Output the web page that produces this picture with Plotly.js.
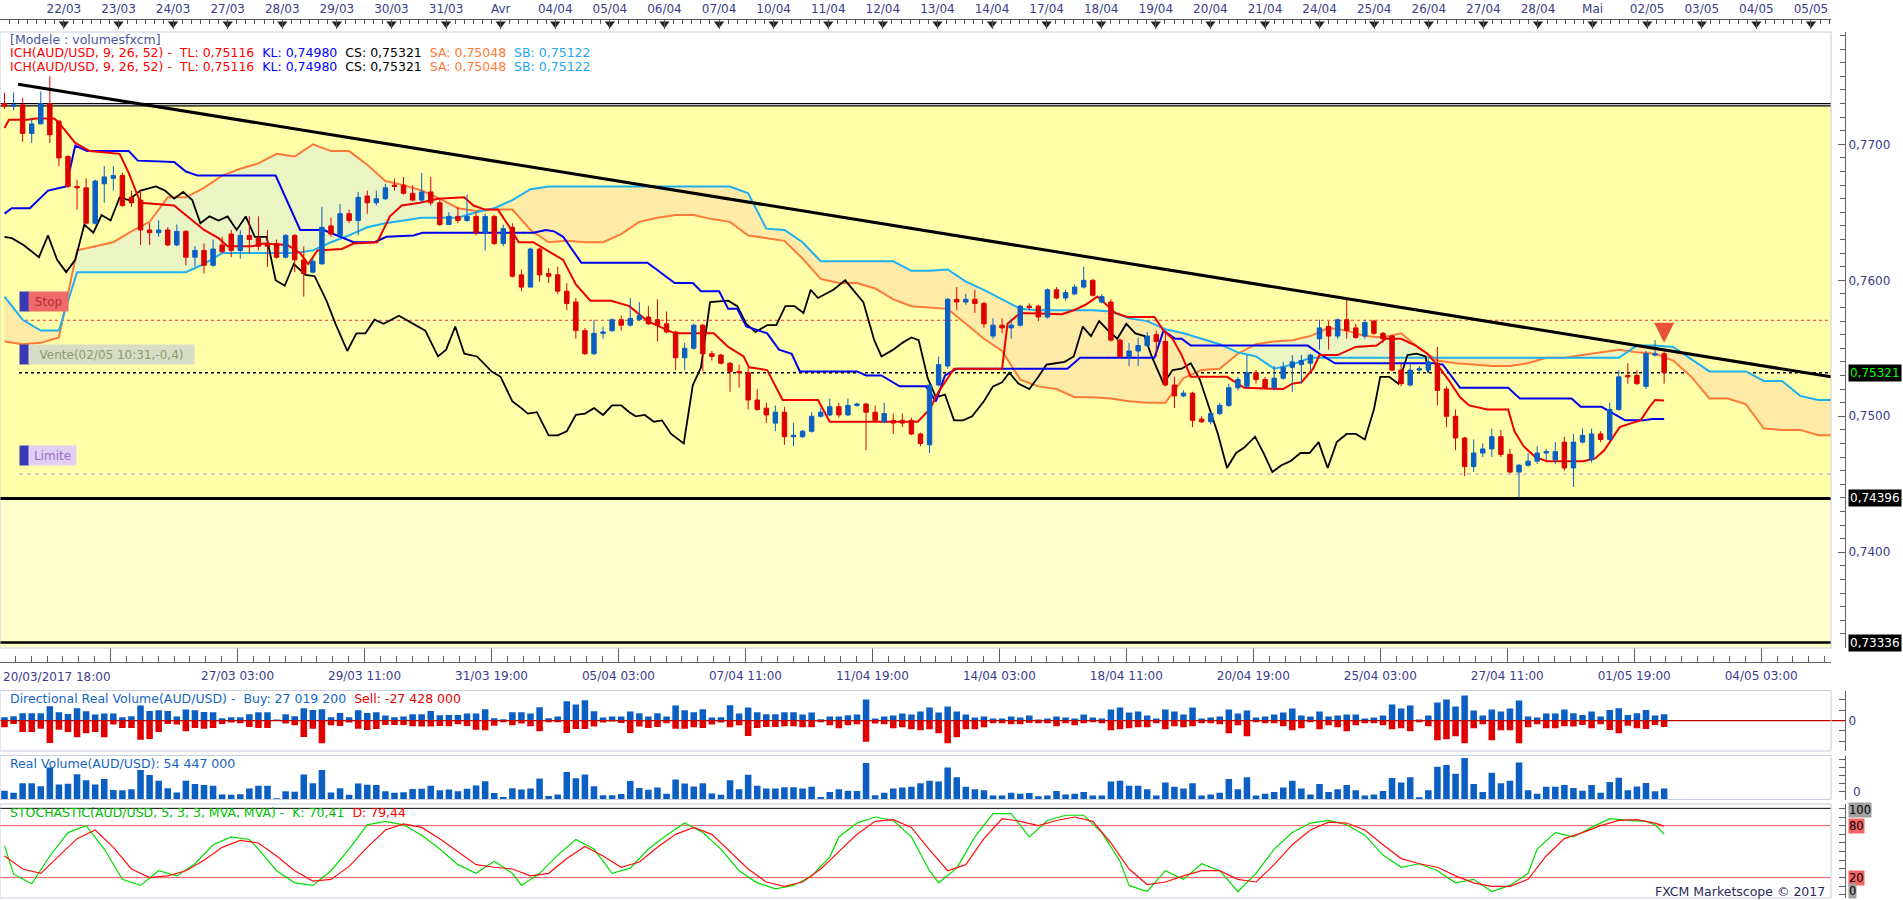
<!DOCTYPE html>
<html><head><meta charset="utf-8">
<script src="https://cdn.plot.ly/plotly-3.0.1.min.js"></script>
<style>html,body{margin:0;padding:0;background:#fff;overflow:hidden}#chart{width:1903px;height:900px}</style>
</head><body><div id="chart"></div>
<script>
// ---------------- DATA (AUD/USD 4H candles, index 0 = 20/03/2017 18:00) ----------------
const open = [
.7730,.7728,.7729,.7708,.7715,.7730,.7717,.7691,.7669,.7668,
.7642,.7671,.7675,.7677,.7661,.7659,.7637,.7635,.7637,.7626,
.7636,.7617,.7622,.7611,.7626,.7634,.7622,.7633,.7631,.7627,
.7627,.7617,.7633,.7615,.7606,.7612,.7640,.7633,.7649,.7644,
.7662,.7657,.7660,.7670,.7670,.7664,.7659,.7665,.7657,.7641,
.7647,.7644,.7647,.7635,.7647,.7627,.7639,.7604,.7595,.7623,
.7605,.7604,.7592,.7584,.7563,.7546,.7561,.7563,.7571,.7567,
.7571,.7573,.7571,.7568,.7562,.7543,.7550,.7567,.7546,.7545,
.7539,.7533,.7532,.7512,.7506,.7495,.7503,.7485,.7485,.7489,
.7500,.7501,.7507,.7501,.7508,.7509,.7503,.7496,.7497,.7497,
.7497,.7487,.7479,.7523,.7537,.7586,.7584,.7586,.7583,.7559,
.7567,.7565,.7567,.7581,.7581,.7573,.7593,.7587,.7590,.7595,
.7600,.7584,.7584,.7556,.7544,.7548,.7552,.7560,.7555,.7523,
.7515,.7517,.7498,.7496,.7502,.7508,.7521,.7522,.7532,.7527,
.7521,.7528,.7536,.7538,.7539,.7557,.7566,.7559,.7571,.7565,
.7559,.7570,.7561,.7559,.7534,.7523,.7534,.7534,.7539,.7520,
.7500,.7484,.7463,.7473,.7476,.7485,.7472,.7459,.7464,.7467,
.7473,.7468,.7481,.7462,.7481,.7468,.7487,.7483,.7505,.7530,
.7530,.7522,.7545,.7546];
const high = [
.7738,.7738,.7734,.7719,.7739,.7750,.7718,.7692,.7674,.7675,
.7674,.7684,.7684,.7679,.7666,.7666,.7642,.7644,.7639,.7641,
.7637,.7625,.7627,.7630,.7632,.7637,.7637,.7647,.7647,.7637,
.7630,.7634,.7634,.7625,.7616,.7654,.7646,.7656,.7652,.7665,
.7666,.7666,.7671,.7675,.7676,.7670,.7679,.7676,.7659,.7650,
.7654,.7663,.7650,.7649,.7648,.7641,.7642,.7608,.7624,.7624,
.7609,.7610,.7598,.7587,.7565,.7571,.7566,.7572,.7574,.7587,
.7584,.7581,.7586,.7577,.7563,.7554,.7568,.7568,.7548,.7546,
.7540,.7538,.7536,.7520,.7510,.7508,.7507,.7495,.7490,.7503,
.7506,.7513,.7510,.7513,.7510,.7510,.7508,.7510,.7502,.7502,
.7499,.7488,.7524,.7544,.7587,.7595,.7590,.7593,.7584,.7572,
.7572,.7572,.7582,.7583,.7582,.7594,.7595,.7593,.7597,.7610,
.7601,.7590,.7586,.7557,.7554,.7558,.7562,.7563,.7563,.7529,
.7519,.7518,.7500,.7503,.7510,.7524,.7529,.7545,.7534,.7529,
.7537,.7540,.7545,.7545,.7546,.7571,.7570,.7572,.7586,.7568,
.7571,.7571,.7562,.7560,.7539,.7539,.7537,.7542,.7551,.7522,
.7505,.7485,.7483,.7480,.7491,.7490,.7476,.7465,.7473,.7478,
.7476,.7481,.7485,.7487,.7491,.7491,.7489,.7510,.7534,.7539,
.7534,.7548,.7556,.7548];
const low = [
.7726,.7725,.7702,.7701,.7715,.7701,.7684,.7668,.7652,.7641,
.7641,.7657,.7666,.7654,.7654,.7626,.7626,.7632,.7625,.7625,
.7611,.7610,.7605,.7610,.7620,.7617,.7616,.7620,.7622,.7610,
.7616,.7616,.7606,.7588,.7605,.7612,.7632,.7632,.7642,.7633,
.7649,.7655,.7659,.7666,.7663,.7658,.7657,.7655,.7640,.7641,
.7642,.7643,.7633,.7622,.7626,.7625,.7602,.7592,.7595,.7599,
.7598,.7590,.7578,.7557,.7545,.7545,.7557,.7562,.7563,.7566,
.7570,.7567,.7555,.7561,.7534,.7534,.7549,.7533,.7541,.7538,
.7518,.7521,.7505,.7504,.7495,.7489,.7479,.7478,.7484,.7488,
.7499,.7500,.7499,.7500,.7507,.7475,.7496,.7495,.7487,.7492,
.7486,.7478,.7473,.7522,.7535,.7578,.7582,.7576,.7565,.7557,
.7561,.7557,.7566,.7578,.7570,.7572,.7586,.7585,.7589,.7594,
.7588,.7583,.7555,.7543,.7537,.7537,.7551,.7544,.7522,.7506,
.7514,.7492,.7495,.7494,.7501,.7507,.7519,.7520,.7524,.7520,
.7519,.7527,.7518,.7524,.7534,.7549,.7549,.7557,.7557,.7557,
.7557,.7560,.7554,.7533,.7522,.7522,.7533,.7533,.7508,.7492,
.7475,.7456,.7459,.7470,.7470,.7470,.7458,.7440,.7463,.7465,
.7468,.7465,.7460,.7448,.7480,.7466,.7481,.7481,.7504,.7524,
.7523,.7520,.7544,.7524];
const close = [
.7728,.7729,.7708,.7715,.7730,.7707,.7690,.7669,.7668,.7642,
.7673,.7676,.7677,.7655,.7657,.7637,.7635,.7637,.7626,.7636,
.7617,.7622,.7611,.7623,.7621,.7622,.7633,.7630,.7625,.7625,
.7617,.7633,.7615,.7605,.7614,.7639,.7634,.7649,.7644,.7661,
.7657,.7660,.7668,.7669,.7664,.7659,.7665,.7657,.7641,.7647,
.7644,.7647,.7635,.7647,.7627,.7638,.7603,.7595,.7623,.7604,
.7603,.7592,.7583,.7563,.7546,.7561,.7562,.7571,.7567,.7572,
.7574,.7568,.7567,.7562,.7543,.7550,.7567,.7546,.7544,.7539,
.7533,.7532,.7512,.7505,.7501,.7503,.7485,.7486,.7489,.7500,
.7503,.7507,.7501,.7508,.7509,.7503,.7497,.7502,.7495,.7495,
.7487,.7480,.7523,.7538,.7586,.7584,.7586,.7583,.7568,.7567,
.7565,.7567,.7581,.7580,.7573,.7593,.7587,.7591,.7595,.7600,
.7589,.7588,.7556,.7544,.7548,.7552,.7559,.7555,.7523,.7515,
.7517,.7497,.7496,.7502,.7508,.7521,.7527,.7532,.7527,.7521,
.7528,.7536,.7540,.7541,.7545,.7565,.7559,.7571,.7563,.7558,
.7569,.7561,.7557,.7534,.7524,.7534,.7535,.7540,.7519,.7500,
.7484,.7463,.7473,.7476,.7485,.7472,.7459,.7464,.7467,.7473,
.7474,.7474,.7462,.7481,.7486,.7487,.7483,.7505,.7529,.7529,
.7524,.7546,.7546,.75321];

// Ichimoku (9, 26, 52) lines
const tenkanX = [0,0.5,2.5,3.5,5.5,6.1,7.8,9.4,12.7,13.7,15,18.7,22,23.6,24.6,27.3,28.6,31.2,32.6,33.5,34.5,37.2,38.5,41.1,42.5,43.8,45.8,47.8,50.7,51.7,53,54.4,55.7,56.7,58.3,60.3,61.6,63,64.6,66.9,68.9,70.9,73.9,78.2,79.8,81.5,82.1,84.1,85.8,89.7,91,100.7,102,103,104.7,110,110.6,112,116.6,117.9,119.2,120.5,121.5,122.5,123.8,126.8,127.8,128.8,129.8,130.8,134.8,135.7,136.7,141,142,143,144.3,145,147,149,151.3,152.3,154,155.6,156.9,158.2,159.2,160.5,161.5,163.5,165.8,166.5,167.5,168.8,170.1,174.1,175.4,176.4,177.4,178.1,179.4,180.4,181.4,182,183];
const tenkanY = [.7712,.7718,.7718,.7719,.7719,.7715,.7701,.7695,.7693,.7679,.7657,.7655,.7637,.7631,.7625,.7625,.7627,.7626,.7620,.7612,.7622,.7623,.7627,.7628,.7647,.7655,.7657,.7660,.7661,.7655,.7652,.7652,.7639,.7628,.7628,.7620,.7615,.7597,.7585,.7585,.7581,.7570,.7561,.7561,.7551,.7544,.7536,.7534,.7512,.7512,.7496,.7496,.7505,.7518,.7535,.7535,.7568,.7576,.7575,.7578,.7582,.7588,.7582,.7576,.7573,.7573,.7563,.7557,.7545,.7529,.7529,.7525,.7521,.7520,.7524,.7525,.7535,.7545,.7545,.7551,.7552,.7557,.7557,.7552,.7546,.7536,.7527,.7514,.7508,.7505,.7505,.7489,.7478,.7470,.7467,.7467,.7469,.7475,.7485,.7492,.7495,.7497,.7507,.7512,.75116];
const kijunX = [0,0.8,2.8,4.8,6.8,7.8,9.1,13.7,14.7,18.7,20,21.3,29.9,32.6,35.2,38.5,40.8,42.1,45.1,46.1,58.3,59.7,60.6,61.6,63.6,70.9,73.9,75.9,76.8,78.8,79.8,80.8,81.8,84.1,85.4,86.8,87.7,94,95,96.7,98.7,101.6,102.7,103.7,105,117.2,118.6,126.8,127.8,129.1,129.8,130.8,143.7,145,146.7,157.6,158.6,160.5,165.8,167.1,172.8,173.8,176.1,177.4,178.7,180.7,181.7,183];
const kijunY = [.7649,.7653,.7653,.7666,.7669,.7699,.7695,.7695,.7688,.7687,.7680,.7677,.7677,.7637,.7637,.7628,.7628,.7632,.7633,.7635,.7635,.7637,.7636,.7632,.7613,.7613,.7598,.7598,.7592,.7592,.7579,.7579,.7566,.7561,.7549,.7546,.7533,.7533,.7530,.7530,.7522,.7522,.7511,.7530,.7535,.7535,.7543,.7543,.7563,.7557,.7557,.7552,.7552,.7546,.7539,.7539,.7538,.7521,.7521,.7513,.7513,.7507,.7507,.7502,.7497,.7497,.7498,.7498];
const chikouX = [0,0.8,2.1,3.8,4.8,5.8,6.8,7.8,8.8,9.8,10.7,11.7,12.7,13.7,15,16.7,17.7,18.7,19.7,20.7,21.6,22.6,23.6,24.6,25.6,26.6,27.6,28.9,29.9,30.9,31.9,33.2,34.2,35.5,36.5,37.8,38.8,39.8,40.8,41.8,43.5,45.1,46.4,47.8,48.7,49.7,50.7,52.1,53.7,54.7,56,57,57.7,58.7,60,61,62,63,64,65,66,67,68,68.9,69.6,70.6,71.6,72.5,73.5,74.9,75.9,76.8,77.8,79.8,80.8,81.8,82.8,84.1,85.1,86.1,87.1,88.1,88.9,89.7,91.4,92.7,93.7,94.7,95.9,96.7,98,99,100,100.8,101.8,102.7,103.7,104.7,105.7,106.7,108,109,110,110.8,111.8,113,114,114.9,115.9,116.9,117.9,118.9,119.8,120.7,121.7,122.7,123.7,124.7,125.7,126.5,127.8,128.8,129.8,130.8,131.8,132.8,133.8,134.8,135.8,136.7,137.9,138.9,139.8,140.8,141.8,142.9,143.9,144.9,145.9,146.9,148,149,150,151,151.7,152.7,153.7,154.7,155.7,156.7,157];
const chikouY = [.7632,.7631,.7626,.7617,.7633,.7615,.7606,.7615,.7641,.7635,.7648,.7644,.7661,.7659,.7666,.7669,.7666,.7660,.7665,.7659,.7642,.7647,.7644,.7647,.7637,.7647,.7632,.7632,.7600,.7596,.7612,.7604,.7603,.7585,.7568,.7548,.7561,.7561,.7571,.7568,.7574,.7568,.7563,.7544,.7549,.7566,.7546,.7544,.7533,.7529,.7511,.7506,.7502,.7503,.7486,.7486,.7489,.7501,.7502,.7506,.7501,.7508,.7508,.7503,.7500,.7501,.7496,.7497,.7487,.7480,.7523,.7536,.7584,.7585,.7581,.7568,.7562,.7567,.7567,.7581,.7581,.7576,.7593,.7587,.7593,.7600,.7592,.7584,.7556,.7544,.7549,.7554,.7558,.7556,.7528,.7514,.7516,.7497,.7497,.7500,.7511,.7522,.7525,.7532,.7524,.7520,.7529,.7538,.7539,.7540,.7544,.7566,.7559,.7570,.7563,.7557,.7568,.7561,.7559,.7544,.7524,.7534,.7535,.7539,.7527,.7507,.7487,.7462,.7473,.7477,.7485,.7472,.7459,.7464,.7467,.7473,.7473,.7481,.7462,.7481,.7487,.7487,.7483,.7505,.7529,.7529,.7524,.7545,.7546,.7544,.75321];
// Senkou span A / B, read every 2 candles (index 0, 2, 4 ... 202)
const senkouA = [
.7555,.7553,.7554,.7558,.7622,.7625,.7628,.7636,.7643,.7661,
.7661,.7668,.7677,.7682,.7686,.7693,.7691,.7700,.7695,.7695,
.7685,.7673,.7670,.7666,.7660,.7653,.7651,.7652,.7652,.7637,
.7628,.7629,.7628,.7628,.7634,.7643,.7646,.7648,.7648,.7645,
.7643,.7633,.7631,.7629,.7616,.7601,.7598,.7598,.7594,.7586,
.7581,.7580,.7579,.7568,.7557,.7548,.7527,.7522,.7520,.7514,
.7514,.7513,.7511,.7510,.7510,.7528,.7534,.7535,.7546,.7553,
.7555,.7556,.7559,.7565,.7563,.7559,.7558,.7561,.7550,.7541,
.7539,.7538,.7537,.7537,.7539,.7543,.7543,.7545,.7547,.7549,
.7547,.7546,.7541,.7529,.7513,.7513,.7509,.7491,.7490,.7490,
.7486,.7486];
const senkouB = [
.7588,.7571,.7563,.7563,.7606,.7606,.7606,.7606,.7606,.7606,
.7606,.7612,.7620,.7620,.7620,.7620,.7620,.7622,.7628,.7633,
.7639,.7642,.7644,.7646,.7646,.7646,.7650,.7653,.7659,.7667,
.7669,.7669,.7669,.7669,.7669,.7669,.7669,.7669,.7669,.7669,
.7669,.7664,.7638,.7637,.7628,.7614,.7614,.7614,.7614,.7614,
.7607,.7607,.7608,.7599,.7593,.7586,.7579,.7578,.7578,.7578,
.7578,.7577,.7572,.7570,.7564,.7561,.7557,.7553,.7547,.7544,
.7535,.7538,.7543,.7543,.7543,.7543,.7543,.7543,.7543,.7543,
.7543,.7543,.7543,.7543,.7543,.7543,.7543,.7543,.7543,.7543,
.7552,.7552,.7551,.7542,.7533,.7533,.7533,.7526,.7526,.7515,
.7512,.7512];

// Drawn objects
const trendX = [1.5, 201.4];
const trendY = [0.77442, 0.75290];
const signalX = [183];
const signalY = [0.75540];
const zoneTop = 0.77282, zoneTopLine = 0.77300, supportLevel = 0.74396, lowLevel = 0.73336;
const stopLevel = 0.75706, currentLevel = 0.75321, limitLevel = 0.74574;

// Directional real volume (millions): buy > 0, sell < 0
const drvBuy = [
14.5,18.9,31.9,31.9,31.9,62.4,36.3,29.0,53.7,40.6,
26.1,30.5,30.5,14.5,18.9,65.3,42.1,45.0,42.1,17.4,
47.9,45.0,37.7,36.3,10.2,14.5,14.5,27.6,36.3,36.3,
4.4,27.6,18.9,53.7,46.4,49.3,14.5,33.4,14.5,45.0,
33.4,36.3,21.8,14.5,17.4,27.6,27.6,42.1,23.2,24.7,
24.7,30.5,30.5,49.3,10.2,5.8,36.3,36.3,30.5,58.0,
10.2,17.4,84.1,69.6,88.5,40.6,13.1,17.4,17.4,39.2,
31.9,17.4,31.9,17.4,65.3,45.0,36.3,49.3,13.1,14.5,
66.7,30.5,56.6,36.3,27.6,27.6,36.3,36.3,26.1,34.8,
5.8,17.4,17.4,23.2,26.1,91.4,8.7,17.4,21.8,30.5,
26.1,39.2,56.6,34.8,60.9,39.2,26.1,13.1,17.4,8.7,
8.7,17.4,13.1,21.8,4.4,8.7,17.4,13.1,8.7,26.1,
13.1,8.7,47.9,56.6,34.8,39.2,21.8,8.7,47.9,39.2,
26.1,56.6,8.7,13.1,17.4,47.9,30.5,43.5,13.1,17.4,
26.1,34.8,52.2,21.8,17.4,39.2,17.4,21.8,26.1,26.1,
8.7,13.1,21.8,69.6,52.2,65.3,4.4,21.8,78.3,91.4,
60.9,108.8,43.5,21.8,47.9,39.2,52.2,87.0,17.4,13.1,
30.5,30.5,47.9,31.9,24.7,39.2,17.4,46.4,53.7,24.7,
31.9,46.4,21.8,27.0192];
const drvSell = [
-29.0,-14.5,-49.3,-49.3,-34.8,-97.2,-39.2,-49.3,-72.5,-55.1,
-49.3,-72.5,-17.4,-31.9,-31.9,-82.7,-79.8,-49.3,-14.5,-17.4,
-46.4,-31.9,-34.8,-31.9,-14.5,-8.7,-11.6,-27.6,-31.9,-31.9,
-1.5,-13.1,-20.3,-71.1,-34.8,-98.6,-20.3,-23.2,-8.7,-34.8,
-40.6,-36.3,-18.9,-18.9,-18.9,-24.7,-26.1,-26.1,-23.2,-24.7,
-16.0,-23.2,-39.2,-42.1,-21.8,-7.3,-20.3,-13.1,-24.7,-46.4,
-7.3,-7.3,-53.7,-36.3,-36.3,-26.1,-8.7,-4.4,-10.2,-53.7,
-26.1,-31.9,-27.6,-11.6,-34.8,-34.8,-29.0,-31.9,-17.4,-8.7,
-29.0,-20.3,-66.7,-31.9,-27.6,-27.6,-24.7,-24.7,-29.0,-29.0,
-7.3,-20.3,-33.4,-20.3,-16.0,-91.4,-13.1,-16.0,-33.4,-29.0,
-37.7,-42.1,-37.7,-55.1,-98.6,-72.5,-37.7,-37.7,-29.0,-11.6,
-11.6,-16.0,-16.0,-10.2,-11.6,-11.6,-24.7,-11.6,-20.3,-11.6,
-7.3,-11.6,-42.1,-37.7,-33.4,-29.0,-29.0,-11.6,-37.7,-24.7,
-29.0,-24.7,-11.6,-11.6,-16.0,-55.1,-20.3,-68.2,-7.3,-11.6,
-11.6,-24.7,-42.1,-33.4,-7.3,-37.7,-20.3,-29.0,-46.4,-20.3,
-11.6,-11.6,-20.3,-37.7,-33.4,-46.4,-7.3,-24.7,-85.6,-81.2,
-68.2,-98.6,-33.4,-16.0,-85.6,-42.1,-42.1,-98.6,-29.0,-16.0,
-33.4,-33.4,-24.7,-26.1,-18.9,-33.4,-16.0,-40.6,-55.1,-21.8,
-33.4,-36.3,-18.9,-27.428];

// Stochastic (5,3,3): %K and %D
const stochKX = [0,1,3,5,7,9,11,13,15,17,19,21,23,25,27,28,30,32,34,36,38,40,42,44,46,48,50,52,54,56,57,59,61,63,65,67,69,71,73,75,77,79,81,83,85,87,89,91,92,94,96,98,100,102,103,105,107,109,111,113,115,117,119,121,123,124,126,128,130,132,134,136,138,140,142,144,146,148,150,152,154,156,158,160,162,164,166,168,169,171,173,175,177,179,181,182,183];
const stochKY = [57,24,13,45,72,80,53,18,11,28,22,36,58,67,64,53,28,14,11,28,53,81,85,81,69,53,35,25,39,25,11,25,46,64,53,25,31,53,69,83,72,53,28,14,7,11,22,44,67,83,90,86,67,28,14,31,67,94,94,67,86,92,92,72,39,11,4,28,18,36,28,4,25,53,72,83,86,81,69,46,32,36,28,14,18,4,11,25,53,72,67,78,88,86,85,81,70.41];
const stochDX = [0,2,4,6,8,10,12,14,16,18,20,22,24,26,28,30,32,34,36,38,40,42,44,46,48,50,52,54,56,58,60,62,64,66,68,70,72,74,76,78,80,82,84,86,88,90,92,94,96,98,100,102,104,106,108,110,112,114,116,118,120,122,124,126,128,130,132,134,136,138,140,142,144,146,148,150,152,154,156,158,160,162,164,166,168,170,172,174,176,178,180,182,183];
const stochDY = [45,30,25,45,65,75,55,30,20,22,28,40,55,63,60,45,28,16,18,33,55,75,82,78,65,50,35,32,30,22,25,42,56,45,32,38,55,70,78,70,50,30,15,10,15,30,50,70,85,87,78,52,28,35,65,88,85,80,86,90,85,60,30,12,15,22,28,28,18,15,35,58,75,84,83,75,58,42,36,32,22,14,10,10,18,45,65,72,80,86,87,83,79.44];

// Axis labels
const dayLabels = ['22/03','23/03','24/03','27/03','28/03','29/03','30/03','31/03','Avr','04/04','05/04','06/04','07/04','10/04','11/04','12/04','13/04','14/04','17/04','18/04','19/04','20/04','21/04','24/04','25/04','26/04','27/04','28/04','Mai','02/05','03/05','04/05','05/05'];
const bottomTickPos = [11.7,25.7,39.7,53.7,67.7,81.7,95.7,109.7,123.7,137.7,151.7,165.7,179.7,193.7];
const bottomTickText = ['','27/03 03:00','29/03 11:00','31/03 19:00','05/04 03:00','07/04 11:00','11/04 19:00','14/04 03:00','18/04 11:00','20/04 19:00','25/04 03:00','27/04 11:00','01/05 19:00','04/05 03:00'];
const firstDateLabel = '20/03/2017 18:00';

// ---------------- BUILD ----------------
const W = 1903, H = 900;
const px = v => v / W, py = v => 1 - v / H;
const FONT = 'DejaVu Sans, Verdana, sans-serif';
const AXC = '#3c3c8c';
const XR = [-0.496, 201.4];
const YR = [0.73296, 0.77826];
const idx = open.map((_, i) => i);
const cloudX = senkouA.map((_, i) => 2 * i);
const cloudTop = senkouA.map((a, i) => Math.max(a, senkouB[i]));
const realVol = drvBuy.map((b, i) => +(b - drvSell[i]).toFixed(4)); // 54 447 000 = 27 019 200 + 27 428 000
const dayPos = dayLabels.map((_, j) => 6.55 + 6.02 * j);
const fmt = (v, d) => v.toFixed(d).replace('.', ',');

const traces = [
  {x: cloudX, y: senkouB, mode: 'lines', line: {width: 0}, hoverinfo: 'skip'},
  {x: cloudX, y: cloudTop, mode: 'lines', line: {width: 0}, fill: 'tonexty', fillcolor: '#EAF5C3', hoverinfo: 'skip'},
  {x: cloudX, y: senkouA, mode: 'lines', line: {width: 0}, hoverinfo: 'skip'},
  {x: cloudX, y: cloudTop, mode: 'lines', line: {width: 0}, fill: 'tonexty', fillcolor: '#FFEBA8', hoverinfo: 'skip'},
  {x: cloudX, y: senkouA, mode: 'lines', line: {color: '#FF7A38', width: 2}, hoverinfo: 'skip'},
  {x: cloudX, y: senkouB, mode: 'lines', line: {color: '#1FB0F0', width: 2}, hoverinfo: 'skip'},
  {x: chikouX, y: chikouY, mode: 'lines', line: {color: '#000000', width: 1.8}, hoverinfo: 'skip'},
  {x: kijunX, y: kijunY, mode: 'lines', line: {color: '#0000EE', width: 2}, hoverinfo: 'skip'},
  {x: tenkanX, y: tenkanY, mode: 'lines', line: {color: '#EE0000', width: 2}, hoverinfo: 'skip'},
  {type: 'candlestick', x: idx, open: open, high: high, low: low, close: close, xaxis: 'x', yaxis: 'y5',
   increasing: {line: {color: '#0A5FC4', width: 1}, fillcolor: '#0A5FC4'},
   decreasing: {line: {color: '#DD0000', width: 1}, fillcolor: '#DD0000'}, whiskerwidth: 0, hoverinfo: 'skip'},
  {x: trendX, y: trendY, xaxis: 'x', yaxis: 'y5', mode: 'lines', line: {color: '#000000', width: 3}, hoverinfo: 'skip'},
  {type: 'bar', x: idx, y: drvBuy, xaxis: 'x', yaxis: 'y2', width: 0.72, marker: {color: '#0B5FC2', line: {width: 0}}, hoverinfo: 'skip'},
  {type: 'bar', x: idx, y: drvSell, xaxis: 'x', yaxis: 'y2', width: 0.72, marker: {color: '#E00000', line: {width: 0}}, hoverinfo: 'skip'},
  {type: 'bar', x: idx, y: realVol, xaxis: 'x', yaxis: 'y3', width: 0.72, marker: {color: '#0B5FC2', line: {width: 0}}, hoverinfo: 'skip'},
  {x: stochKX, y: stochKY, xaxis: 'x', yaxis: 'y4', mode: 'lines', line: {color: '#00DD00', width: 1.2}, hoverinfo: 'skip'},
  {x: stochDX, y: stochDY, xaxis: 'x', yaxis: 'y4', mode: 'lines', line: {color: '#FF1010', width: 1.2}, hoverinfo: 'skip'},
  {x: dayPos, y: dayLabels.map(() => 0.72), xaxis: 'x2', yaxis: 'y6', mode: 'markers',
   marker: {symbol: 'triangle-down', size: 9, color: '#222222'}, hoverinfo: 'skip'}
];

const rightAxis = (extra) => Object.assign({
  anchor: 'free', position: px(1845), side: 'right', showline: true, linecolor: '#606060', linewidth: 1,
  ticks: 'inside', ticklen: 6, tickcolor: '#606060', showgrid: false, zeroline: false, fixedrange: true,
  tickfont: {family: FONT, size: 12, color: AXC}
}, extra);

const BORDER = '#C5CFDD';
const shapes = [
  {type: 'rect', xref: 'paper', x0: 0, x1: px(1831), yref: 'y', y0: supportLevel, y1: zoneTop, fillcolor: '#FFFFAA', line: {width: 0}, layer: 'below'},
  {type: 'rect', xref: 'paper', x0: 0, x1: px(1831), yref: 'y', y0: YR[0], y1: supportLevel, fillcolor: '#FFFFCC', line: {width: 0}, layer: 'below'},
  {type: 'line', xref: 'paper', x0: 0, x1: px(1831), yref: 'y', y0: zoneTopLine, y1: zoneTopLine, line: {color: '#000', width: 1.2}, layer: 'below'},
  {type: 'line', xref: 'paper', x0: 0, x1: px(1831), yref: 'y', y0: zoneTop, y1: zoneTop, line: {color: '#000', width: 1.2}, layer: 'below'},
  {type: 'line', xref: 'paper', x0: 0, x1: px(1831), yref: 'y', y0: supportLevel, y1: supportLevel, line: {color: '#000', width: 3}, layer: 'below'},
  {type: 'line', xref: 'paper', x0: 0, x1: px(1831), yref: 'y', y0: lowLevel, y1: lowLevel, line: {color: '#000', width: 2.5}, layer: 'below'},
  {type: 'line', xref: 'paper', x0: px(19), x1: px(1831), yref: 'y', y0: stopLevel, y1: stopLevel, line: {color: '#FF5A5A', width: 1.2, dash: 'dot'}, layer: 'below'},
  {type: 'line', xref: 'paper', x0: px(19), x1: px(1831), yref: 'y', y0: currentLevel, y1: currentLevel, line: {color: '#000', width: 1.5, dash: '3px,3px'}, layer: 'below'},
  {type: 'line', xref: 'paper', x0: px(19), x1: px(1831), yref: 'y', y0: limitLevel, y1: limitLevel, line: {color: '#C9A6EC', width: 1.2, dash: '4px,4px'}, layer: 'below'},
  {type: 'line', xref: 'paper', x0: 0, x1: px(1845), yref: 'y2', y0: 0, y1: 0, line: {color: '#C00000', width: 1.2}},
  {type: 'line', xref: 'paper', x0: 0, x1: px(1831), yref: 'y4', y0: 100, y1: 100, line: {color: '#000', width: 1}, layer: 'below'},
  {type: 'line', xref: 'paper', x0: 0, x1: px(1831), yref: 'y4', y0: 80, y1: 80, line: {color: '#F05A5A', width: 1}, layer: 'below'},
  {type: 'line', xref: 'paper', x0: 0, x1: px(1831), yref: 'y4', y0: 20, y1: 20, line: {color: '#F05A5A', width: 1}, layer: 'below'},
  {type: 'rect', xref: 'paper', yref: 'paper', x0: 0, x1: px(1831), y0: py(648), y1: py(32), line: {color: BORDER, width: 1}},
  {type: 'rect', xref: 'paper', yref: 'paper', x0: 0, x1: px(1831), y0: py(751), y1: py(690.5), line: {color: BORDER, width: 1}},
  {type: 'rect', xref: 'paper', yref: 'paper', x0: 0, x1: px(1831), y0: py(799.5), y1: py(755.5), line: {color: BORDER, width: 1}},
  {type: 'rect', xref: 'paper', yref: 'paper', x0: 0, x1: px(1831), y0: py(898), y1: py(804), line: {color: BORDER, width: 1}}
];

const LF = 12.5;
const T = (text, x, y, color, extra) => Object.assign({text: text, xref: 'paper', yref: 'paper', x: px(x), y: py(y),
  xanchor: 'left', yanchor: 'middle', showarrow: false, font: {family: FONT, size: LF, color: color}}, extra || {});
const sp = '&nbsp;&nbsp;';
const ich = '<span style="color:#FF0000">ICH(AUD/USD, 9, 26, 52) -&nbsp; TL: 0,75116</span>' + sp +
  '<span style="color:#0000FF">KL: 0,74980</span>' + sp + '<span style="color:#000000">CS: 0,75321</span>' + sp +
  '<span style="color:#FF7A38">SA: 0,75048</span>' + sp + '<span style="color:#1FA8F0">SB: 0,75122</span>';
const orderBox = (text, level, x, w, bg, fg) => ({text: text, xref: 'paper', x: px(x), xanchor: 'left', yref: 'y', y: level,
  yanchor: 'bottom', yshift: 8, width: w, height: 19, bgcolor: bg, borderpad: 0, showarrow: false, align: 'center',
  font: {family: FONT, size: 12, color: fg}});
const priceTag = (level, fg) => ({text: fmt(level, 5), xref: 'paper', x: px(1848), xanchor: 'left', yref: 'y', y: level,
  yanchor: 'middle', showarrow: false, bgcolor: '#000', borderpad: 1, font: {family: FONT, size: 12, color: fg}});
const stochTag = (v, bg, shift) => ({text: String(v), xref: 'paper', x: px(1848), xanchor: 'left', yref: 'y4', y: v,
  yanchor: 'middle', yshift: shift || 0, showarrow: false, bgcolor: bg, borderpad: 0, font: {family: FONT, size: 11.5, color: '#000'}});

const annotations = [
  T('[Modele : volumesfxcm]', 8, 40, '#4B55A0'),
  T(ich, 8, 53, '#FF0000'),
  T(ich, 8, 67, '#FF0000'),
  T(firstDateLabel, 1, 677, AXC, {font: {family: FONT, size: 12, color: AXC}}),
  T('<span style="color:#1565C0">Directional Real Volume(AUD/USD) -&nbsp; Buy: 27 019 200</span>' + sp + '<span style="color:#E00000">Sell: -27 428 000</span>', 8, 698, '#1565C0'),
  T('Real Volume(AUD/USD): 54 447 000', 8, 763, '#1565C0'),
  T('<span style="color:#00C000">STOCHASTIC(AUD/USD, 5, 3, 3, MVA, MVA) -&nbsp; K: 70,41</span>' + sp + '<span style="color:#FF0000">D: 79,44</span>', 8, 812, '#00C000'),
  T('FXCM Marketscope © 2017', 1827, 891, '#2A2A5A', {xanchor: 'right'}),
  T('0', 1851, 792, AXC, {font: {family: FONT, size: 12, color: AXC}}),
  orderBox('&nbsp;', stopLevel, 19, 9, '#3A3AB8', '#fff'),
  orderBox('Stop', stopLevel, 28, 39, '#EF6B6B', '#B33030'),
  orderBox('&nbsp;', currentLevel, 19, 9, '#3A3AB8', '#fff'),
  orderBox('Vente(02/05 10:31,-0,4)', currentLevel, 28, 165, '#D8DEC6', '#8A9A6C'),
  orderBox('&nbsp;', limitLevel, 19, 9, '#3A3AB8', '#fff'),
  orderBox('Limite', limitLevel, 28, 47, '#E3CFF3', '#9A6EC8'),
  priceTag(currentLevel, '#00FF00'),
  priceTag(supportLevel, '#FFFFFF'),
  priceTag(lowLevel, '#FFFFFF'),
  stochTag(100, '#A0A0A0', -2), stochTag(80, '#F46464'), stochTag(20, '#F46464'), stochTag(0, '#A0A0A0', 4),
  {x: signalX[0], y: signalY[0], xref: 'x', yref: 'y', text: '', showarrow: true, ax: 0, ay: -13,
   arrowhead: 2, arrowsize: 0.8, arrowwidth: 5, arrowcolor: '#E8503A'}
];

const layout = {
  width: W, height: H, margin: {l: 0, r: 0, t: 0, b: 0, pad: 0},
  paper_bgcolor: '#FFFFFF', plot_bgcolor: '#FFFFFF', showlegend: false,
  separators: ', ', barmode: 'relative', hovermode: false,
  font: {family: FONT, size: 12, color: AXC},
  xaxis: {domain: [0, px(1831)], range: XR, anchor: 'free', position: py(662), side: 'bottom',
    showline: true, linecolor: '#606060', linewidth: 1, ticks: 'inside', ticklen: 14, tickcolor: '#606060',
    tickmode: 'array', tickvals: bottomTickPos, ticktext: bottomTickText, ticklabelstandoff: 3,
    tickfont: {family: FONT, size: 12, color: AXC},
    minor: {tickmode: 'linear', tick0: bottomTickPos[0], dtick: 1.75, ticks: 'inside', ticklen: 6, tickcolor: '#606060'},
    showgrid: false, zeroline: false, rangeslider: {visible: false}, fixedrange: true},
  xaxis2: {domain: [0, px(1831)], range: XR, anchor: 'y6', side: 'top',
    showline: true, linecolor: '#555555', linewidth: 1, ticks: 'inside', ticklen: 9, tickcolor: '#555555',
    tickmode: 'array', tickvals: dayPos, ticktext: dayLabels, ticklabelstandoff: 1,
    tickfont: {family: FONT, size: 12, color: AXC},
    minor: {tickmode: 'linear', tick0: dayPos[0], dtick: 6.02 / 6, ticks: 'inside', ticklen: 4, tickcolor: '#555555'},
    showgrid: false, zeroline: false, fixedrange: true},
  yaxis: rightAxis({domain: [py(648), py(32)], range: YR, tickmode: 'linear', tick0: 0.77, dtick: 0.01,
    tickformat: '.4f', ticklen: 7, minor: {tickmode: 'linear', tick0: 0.77, dtick: 0.001, ticks: 'inside', ticklen: 5, tickcolor: '#606060'}}),
  yaxis5: {overlaying: 'y', range: YR, visible: false, fixedrange: true},
  yaxis2: rightAxis({domain: [py(751), py(690.5)], range: [-131.8, 130.5], tickmode: 'array',
    tickvals: [-90, -45, 0, 45, 90], ticktext: ['', '', '0', '', '']}),
  yaxis3: rightAxis({domain: [py(799.5), py(755.5)], range: [0, 220], tickmode: 'array',
    tickvals: [0, 40, 80, 120, 160, 200], ticktext: ['', '', '', '', '', '']}),
  yaxis4: rightAxis({domain: [py(898), py(804)], range: [-3.5, 105], tickmode: 'array',
    tickvals: [0, 10, 20, 30, 40, 50, 60, 70, 80, 90, 100], ticktext: ['', '', '', '', '', '', '', '', '', '', '']}),
  yaxis6: {domain: [py(33), py(20)], range: [0, 1], anchor: 'x2', visible: false, fixedrange: true},
  shapes: shapes,
  annotations: annotations
};

Plotly.newPlot('chart', traces, layout, {staticPlot: true, displayModeBar: false});
</script>
</body></html>
